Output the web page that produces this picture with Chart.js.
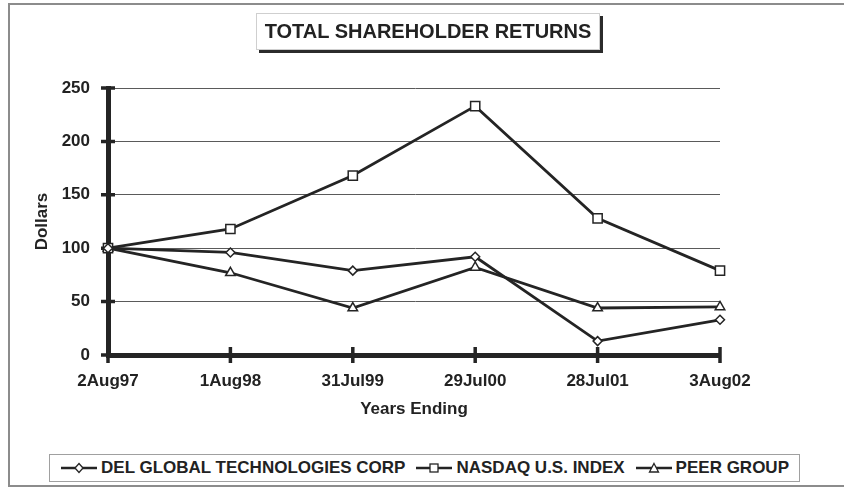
<!DOCTYPE html>
<html>
<head>
<meta charset="utf-8">
<script src="https://cdn.jsdelivr.net/npm/chart.js@4.4.1/dist/chart.umd.min.js"></script>
<style>
  html, body { margin: 0; padding: 0; background: #fff; }
  #page { position: relative; width: 844px; height: 487px; overflow: hidden;
    font-family: Arial, "Liberation Sans", sans-serif; font-weight: bold; color: #222; }
  #frame { position: absolute; left: 8px; top: 3px; width: 900px; height: 480px;
    border-top: 2px solid #8c8c8c; border-left: 2px solid #8c8c8c; border-bottom: 2px solid #8c8c8c; }
  #chart { position: absolute; left: 0; top: 0; }
  #title { position: absolute; left: 256px; top: 13px; width: 342px; height: 35px;
    border: 1px solid #cfcfcf; box-shadow: 3px 3px 0 #2b2b2b; background: #fff;
    font-size: 20px; line-height: 35px; text-align: center; }
  #legend { position: absolute; left: 49px; top: 454px; width: 749px; height: 26px;
    border: 1px solid #a0a0a0; background: #fff; display: flex; align-items: center;
    justify-content: center; font-size: 17px; white-space: nowrap; }
  .item { display: flex; align-items: center; margin: 0 5px; }
  .item svg { margin-right: 3px; }
</style>
</head>
<body>
<div id="page">
  <div id="frame"></div>
  <canvas id="chart" width="844" height="487"></canvas>
  <div id="title">TOTAL SHAREHOLDER RETURNS</div>
  <div id="legend"></div>
</div>
<script>
const CATEGORIES = ["2Aug97", "1Aug98", "31Jul99", "29Jul00", "28Jul01", "3Aug02"];
const DEL_GLOBAL = [100, 96, 79, 92, 13, 33];
const NASDAQ_US = [100, 118, 168, 233, 128, 79];
const PEER_GROUP = [100, 77, 44, 82, 44, 45];
const SERIES_NAMES = ["DEL GLOBAL TECHNOLOGIES CORP", "NASDAQ U.S. INDEX", "PEER GROUP"];
const Y_MIN = 0, Y_MAX = 250, Y_STEP = 50;

const INK = "#242424";
const FONT = { family: "Arial, 'Liberation Sans', sans-serif", weight: "bold", size: 17 };

function series(label, data, style, radius) {
  return {
    label, data,
    borderColor: INK, borderWidth: 2.8, tension: 0,
    pointStyle: style, pointRadius: radius, pointHoverRadius: radius,
    pointBackgroundColor: "#fff", pointBorderColor: INK, pointBorderWidth: 1.5,
  };
}

// tick marks that cross both axes, drawn under the lines
const crossTicks = {
  id: "crossTicks",
  beforeDatasetsDraw(chart) {
    const { ctx, scales: { x, y } } = chart;
    const ax = chart.chartArea.left, ay = chart.chartArea.bottom;
    ctx.save();
    ctx.strokeStyle = INK;
    ctx.lineWidth = 3.5;
    ctx.beginPath();
    for (const t of y.ticks) {
      const py = y.getPixelForValue(t.value);
      ctx.moveTo(ax - 7, py);
      ctx.lineTo(ax + 7, py);
    }
    CATEGORIES.forEach((c, i) => {
      const px = x.getPixelForValue(i);
      ctx.moveTo(px, ay - 8);
      ctx.lineTo(px, ay + 8);
    });
    ctx.stroke();
    ctx.restore();
  },
};

new Chart(document.getElementById("chart"), {
  type: "line",
  data: {
    labels: CATEGORIES,
    datasets: [
      series(SERIES_NAMES[0], DEL_GLOBAL, "rectRot", 4.5),
      series(SERIES_NAMES[1], NASDAQ_US, "rect", 6.5),
      series(SERIES_NAMES[2], PEER_GROUP, "triangle", 5.5),
    ],
  },
  options: {
    responsive: false,
    animation: false,
    events: [],
    layout: { padding: { left: 28, top: 88, right: 124, bottom: 63 } },
    plugins: { legend: { display: false }, title: { display: false }, tooltip: { enabled: false } },
    scales: {
      x: {
        offset: false,
        grid: { display: false, drawTicks: false },
        border: { display: true, color: INK, width: 5 },
        ticks: { color: "#222", font: FONT, padding: 16, maxRotation: 0, autoSkip: false },
        title: { display: true, text: "Years Ending", color: "#222", font: FONT, padding: 4 },
        afterFit(s) { s.height = 69; },
      },
      y: {
        min: Y_MIN, max: Y_MAX,
        grid: { color: "#5a5a5a", lineWidth: 1, drawTicks: false },
        border: { display: true, color: INK, width: 5 },
        ticks: { stepSize: Y_STEP, color: "#222", font: FONT, padding: 18 },
        title: { display: true, text: "Dollars", color: "#222", font: FONT, padding: 4 },
        afterFit(s) { s.width = 80; },
      },
    },
  },
  plugins: [crossTicks],
});

// legend: line-with-marker swatch plus name
const MARKERS = [
  '<polygon points="19,1.5 23,6 19,10.5 15,6" fill="#fff" stroke="' + INK + '" stroke-width="1.3"/>',
  '<rect x="15" y="2" width="8" height="8" fill="#fff" stroke="' + INK + '" stroke-width="1.3"/>',
  '<polygon points="19,1.5 23.5,10 14.5,10" fill="#fff" stroke="' + INK + '" stroke-width="1.3"/>',
];
document.getElementById("legend").innerHTML = SERIES_NAMES.map((name, i) =>
  `<span class="item"><svg width="38" height="12" viewBox="0 0 38 12">
     <line x1="1" y1="6" x2="37" y2="6" stroke="${INK}" stroke-width="2.5"/>${MARKERS[i]}</svg>${name}</span>`
).join("");
</script>
</body>
</html>
